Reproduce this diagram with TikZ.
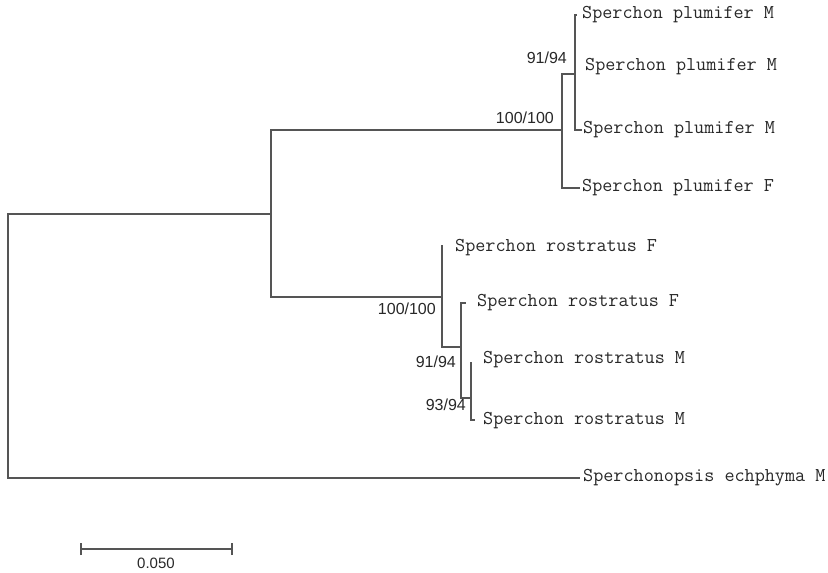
\documentclass[tikz,border=0pt]{standalone}
\usepackage{fontspec}
\newfontfamily\labfont{Latin Modern Mono}
\newfontfamily\numfont{Liberation Sans}
\definecolor{treegray}{RGB}{85,85,85}
\definecolor{txtgray}{RGB}{40,40,40}
\tikzset{
  branch/.style={draw=treegray, line width=1.4pt},
  taxon/.style={anchor=west, inner sep=0pt, text=txtgray, font=\labfont\fontsize{19.6}{21}\selectfont},
  support/.style={anchor=east, inner sep=0pt, text=txtgray, font=\numfont\fontsize{16}{18}\selectfont},
}
\begin{document}
\begin{tikzpicture}[x=1pt, y=-1pt]
\useasboundingbox (0,0) rectangle (828,573);
% internal nodes
\coordinate (R) at (8,346);
\coordinate (A) at (271,214);
\coordinate (P) at (562,130);
\coordinate (P2) at (575,74);
\coordinate (Q) at (442,297);
\coordinate (Q2) at (461,347);
\coordinate (Q3) at (471,398);
% leaf ends
\coordinate (p1) at (577,15);
\coordinate (p2) at (575,67);
\coordinate (p3) at (582,130);
\coordinate (p4) at (580,188);
\coordinate (r1) at (442,245);
\coordinate (r2) at (466,303);
\coordinate (r3) at (471,362);
\coordinate (r4) at (475,420);
\coordinate (o1) at (580,478);
% branches
\draw[branch] (R) |- (A);
\draw[branch] (R) |- (o1);
\draw[branch] (A) |- (P);
\draw[branch] (A) |- (Q);
\draw[branch] (P) |- (P2);
\draw[branch] (P) |- (p4);
\draw[branch] (P2) |- (p1);
\draw[branch] (P2) |- (p2);
\draw[branch] (P2) |- (p3);
\draw[branch] (Q) |- (r1);
\draw[branch] (Q) |- (Q2);
\draw[branch] (Q2) |- (r2);
\draw[branch] (Q2) |- (Q3);
\draw[branch] (Q3) |- (r3);
\draw[branch] (Q3) |- (r4);
% taxon labels
\node[taxon] (tp1) at (582,15) {Sperchon plumifer M};
\node[taxon] (tp2) at (585,67) {Sperchon plumifer M};
\node[taxon] (tp3) at (583,130) {Sperchon plumifer M};
\node[taxon] (tp4) at (582,188) {Sperchon plumifer F};
\node[taxon] (tr1) at (455,248) {Sperchon rostratus F};
\node[taxon] (tr2) at (477,303) {Sperchon rostratus F};
\node[taxon] (tr3) at (483,360) {Sperchon rostratus M};
\node[taxon] (tr4) at (483,421) {Sperchon rostratus M};
\node[taxon] (to1) at (583,478) {Sperchonopsis echphyma M};
% support values
\node[support] (s1) at (567,58) {91/94};
\node[support] (s2) at (554,118) {100/100};
\node[support] (s3) at (436,309) {100/100};
\node[support] (s4) at (456,362) {91/94};
\node[support] (s5) at (466,405) {93/94};
% scale bar
\coordinate (sb1) at (81,549);
\coordinate (sb2) at (232,549);
\draw[branch] (sb1) -- (sb2);
\draw[branch] ([yshift=-6pt]sb1) -- ([yshift=6pt]sb1);
\draw[branch] ([yshift=-6pt]sb2) -- ([yshift=6pt]sb2);
\node[inner sep=0pt, text=txtgray, font=\numfont\fontsize{15}{17}\selectfont] (sbl) at (156,563) {0.050};
\end{tikzpicture}
\end{document}
